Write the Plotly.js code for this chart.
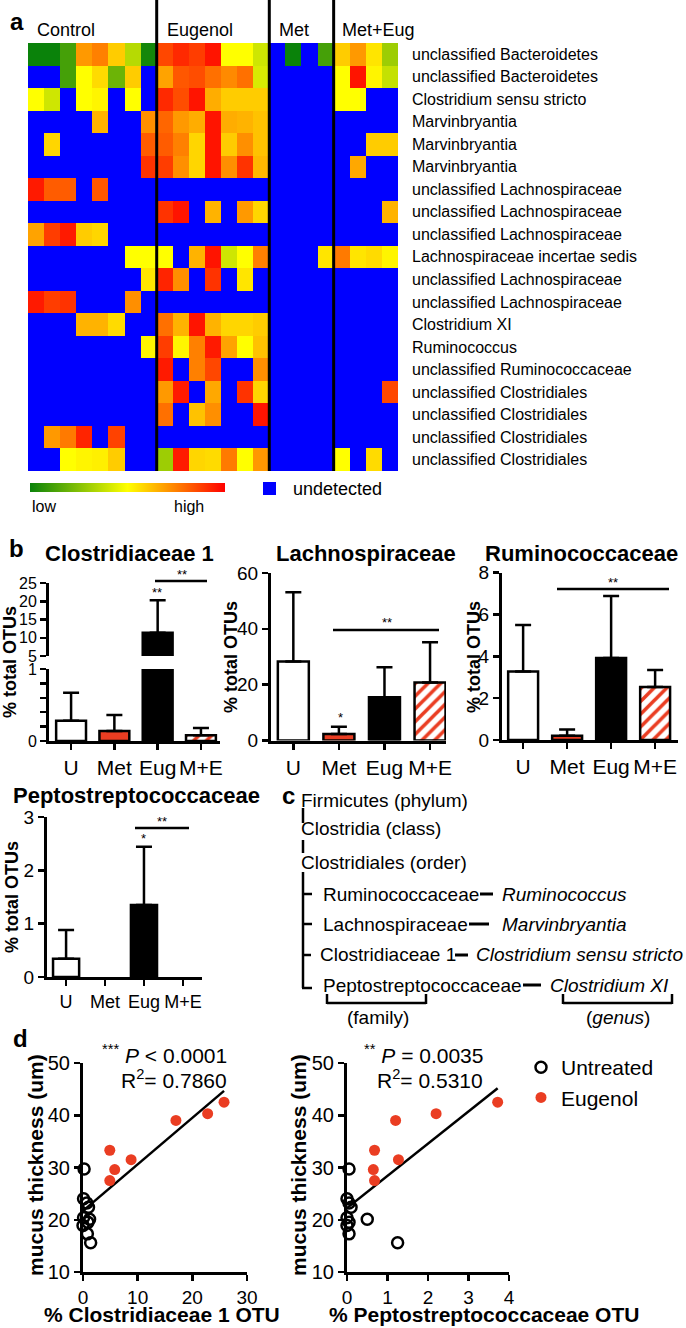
<!DOCTYPE html>
<html><head><meta charset="utf-8">
<script src="https://cdn.plot.ly/plotly-3.0.1.min.js"></script>
<style>html,body{margin:0;padding:0;background:#fff}#chart{width:686px;height:1328px}</style>
</head><body><div id="chart"></div>
<script>
const n = null;
// ---------- panel a : heatmap ----------
const rowLabels = ['unclassified Bacteroidetes','unclassified Bacteroidetes','Clostridium sensu stricto','Marvinbryantia','Marvinbryantia','Marvinbryantia','unclassified Lachnospiraceae','unclassified Lachnospiraceae','unclassified Lachnospiraceae','Lachnospiraceae incertae sedis','unclassified Lachnospiraceae','unclassified Lachnospiraceae','Clostridium XI','Ruminococcus','unclassified Ruminococcaceae','unclassified Clostridiales','unclassified Clostridiales','unclassified Clostridiales','unclassified Clostridiales'];
const groupNames = ['Control','Eugenol','Met','Met+Eug'];
const controlVals = [
 [0.0,0.0,0.12,0.7,0.75,0.6,0.35,0.02],
 [n,n,0.12,0.5,0.57,0.2,0.6,n],
 [0.5,0.4,n,0.5,0.52,n,0.5,n],
 [n,n,n,n,0.65,n,n,0.72],
 [n,0.58,n,n,n,n,n,0.82],
 [n,n,n,n,n,n,n,0.9],
 [0.95,0.82,0.82,n,0.83,n,n,n],
 [n,n,n,n,n,n,n,n],
 [0.68,0.88,0.95,0.6,0.58,n,n,n],
 [n,n,n,n,n,n,0.5,0.5],
 [n,n,n,n,n,n,n,0.55],
 [0.95,0.88,0.9,n,n,n,0.72,n],
 [n,n,n,0.65,0.65,0.57,n,n],
 [n,n,n,n,n,n,n,0.52],
 [n,n,n,n,n,n,n,n],
 [n,n,n,n,n,n,n,n],
 [n,n,n,n,n,n,n,n],
 [n,0.7,0.76,0.93,n,0.87,n,n],
 [n,n,0.5,0.52,0.53,0.6,n,n]
];
const eugenolVals = [
 [0.86,0.92,0.88,0.96,0.5,0.5,0.4],
 [0.68,0.83,0.85,0.78,0.73,0.78,0.42],
 [0.92,0.85,0.96,0.66,0.6,0.6,0.6],
 [0.8,0.7,0.66,0.96,0.66,0.65,0.62],
 [0.82,0.75,0.58,0.96,0.6,0.72,0.62],
 [0.88,0.72,0.58,0.96,0.72,0.9,0.64],
 [n,n,n,n,n,n,n],
 [0.9,0.96,n,0.65,n,0.7,0.58],
 [n,n,n,n,n,n,n],
 [0.5,n,0.65,0.96,0.4,0.5,0.75],
 [0.93,0.72,n,0.9,n,0.55,n],
 [n,n,n,n,n,n,n],
 [0.78,0.65,0.96,0.65,0.58,0.58,0.6],
 [0.88,0.52,0.75,0.95,0.68,0.5,0.62],
 [0.95,n,0.75,0.86,n,n,0.72],
 [0.7,0.95,n,0.67,n,0.9,0.58],
 [0.78,n,0.62,0.72,n,n,0.96],
 [n,n,n,n,n,n,n],
 [0.3,0.95,0.58,0.57,0.76,0.5,0.7]
];
const metVals = [
 [n,0.0,n,0.12],[n,n,n,n],[n,n,n,n],[n,n,n,n],[n,n,n,n],[n,n,n,n],[n,n,n,n],[n,n,n,n],[n,n,n,n],
 [n,n,n,0.55],[n,n,n,n],[n,n,n,n],[n,n,n,n],[n,n,n,n],[n,n,n,n],[n,n,n,n],[n,n,n,n],[n,n,n,n],[n,n,n,n]
];
const metEugVals = [
 [0.6,0.7,0.55,0.3],
 [0.5,0.96,0.52,0.38],
 [0.5,0.5,n,n],
 [n,n,n,n],
 [n,n,0.6,0.6],
 [n,0.67,n,n],
 [n,n,n,n],
 [n,n,n,0.65],
 [n,n,n,n],
 [0.76,0.55,0.57,0.52],
 [n,n,n,n],[n,n,n,n],[n,n,n,n],[n,n,n,n],[n,n,n,n],
 [n,n,n,0.86],
 [n,n,n,n],[n,n,n,n],
 [0.5,n,0.57,n]
];
// ---------- panel b : bar charts ----------
const barCats = ['U','Met','Eug','M+E'];
const clostMean = [0.28,0.14,11.4,0.08];
const clostSD   = [0.39,0.22,8.9,0.10];
const lachnoMean = [28.3,2.3,15.5,20.8];
const lachnoSD   = [24.8,2.6,10.7,14.4];
const ruminoMean = [3.27,0.2,3.92,2.54];
const ruminoSD   = [2.23,0.3,2.97,0.81];
const peptoMean = [0.34,null,1.35,null];
const peptoSD   = [0.54,null,1.09,null];
// ---------- panel d : scatter ----------
const mucusUntreated = [29.7,24.0,23.2,22.4,20.4,20.1,19.5,18.9,17.3,15.6];
const mucusEugenol   = [33.3,29.6,27.5,31.5,39.0,40.3,42.5];
const clostUntreated = [0.2,0.1,0.7,1.0,0.1,1.2,0.9,0.0,0.8,1.4];
const clostEugenol   = [4.9,5.8,4.9,8.8,17.0,22.8,25.8];
const peptoUntreated = [0.05,0.0,0.05,0.1,0.0,0.5,0.05,0.0,0.05,1.25];
const peptoEugenol   = [0.68,0.65,0.68,1.27,1.2,2.2,3.72];

// ---------- helpers ----------
const W = 686, H = 1328;
const FONT = 'Liberation Sans, Arial, Helvetica, sans-serif';
const RED = '#ea3d22';
const px = x => x / W;
const py = y => 1 - y / H;
const dX = (a, b) => [a / W, b / W];
const dY = (a, b) => [1 - b / H, 1 - a / H];

const z = rowLabels.map((_, i) => [...controlVals[i], ...eugenolVals[i], ...metVals[i], ...metEugVals[i]]);
const undetected = z.map(r => r.map(v => v === null ? 1 : null));
const nCols = z[0].length;
const groupSizes = [controlVals[0].length, eugenolVals[0].length, metVals[0].length, metEugVals[0].length];

const traces = [];
traces.push({type:'heatmap', z: undetected, xaxis:'x', yaxis:'y', colorscale:[[0,'#0000ff'],[1,'#0000ff']], showscale:false, hoverinfo:'skip'});
traces.push({type:'heatmap', z: z, xaxis:'x', yaxis:'y', zmin:0, zmax:1,
  colorscale:[[0,'rgb(10,130,10)'],[0.5,'rgb(255,255,0)'],[1,'rgb(255,0,0)']],
  hoverinfo:'skip',
  colorbar:{orientation:'h', x:px(127.5), xanchor:'center', y:py(483), yanchor:'top', len:195, lenmode:'pixels',
    thickness:9, thicknessmode:'pixels', showticklabels:false, ticks:'', outlinewidth:0, xpad:0, ypad:0}});

const barFill = ['white', RED, 'black', RED];
const barPattern = ['', '', '', '/'];
function barTrace(mean, sd, xa, ya, width) {
  return {type:'bar', x: barCats, y: mean, xaxis: xa, yaxis: ya, width: width,
    marker:{color: barFill, line:{color:'black', width:2.5},
      pattern:{shape: barPattern, fillmode:'replace', bgcolor: RED, fgcolor:'#000000', fgopacity:1, size:9, solidity:0.4}},
    error_y:{type:'data', symmetric:false, array: sd, arrayminus: sd.map(() => 0), color:'black', thickness:2.5, width:8},
    showlegend:false, hoverinfo:'skip'};
}
traces.push(barTrace(clostMean, clostSD, 'x2', 'y2', 0.69));
traces.push(barTrace(clostMean, clostSD, 'x3', 'y3', 0.69));
traces.push(barTrace(lachnoMean, lachnoSD, 'x4', 'y4', 0.68));
traces.push(barTrace(ruminoMean, ruminoSD, 'x5', 'y5', 0.68));
traces.push(barTrace(peptoMean, peptoSD, 'x6', 'y6', 0.67));

function ols(xs, ys) {
  const N = xs.length;
  const mx = xs.reduce((a, b) => a + b, 0) / N, my = ys.reduce((a, b) => a + b, 0) / N;
  let sxy = 0, sxx = 0;
  for (let i = 0; i < N; i++) { sxy += (xs[i] - mx) * (ys[i] - my); sxx += (xs[i] - mx) ** 2; }
  const m = sxy / sxx; return {m: m, b: my - m * mx};
}
function scatterSet(xu, xe, xa, ya, legend) {
  const allX = [...xu, ...xe], allY = [...mucusUntreated, ...mucusEugenol];
  const fit = ols(allX, allY);
  const lx = [Math.min(...allX), Math.max(...allX)];
  traces.push({type:'scatter', mode:'lines', x: lx, y: lx.map(v => fit.b + fit.m * v), xaxis: xa, yaxis: ya,
    line:{color:'black', width:2.5}, showlegend:false, hoverinfo:'skip', cliponaxis:false});
  traces.push({type:'scatter', mode:'markers', x: xu, y: mucusUntreated, xaxis: xa, yaxis: ya, name:'Untreated',
    marker:{symbol:'circle-open', size:11, color:'black', line:{width:2.5, color:'black'}},
    showlegend: legend, hoverinfo:'skip', cliponaxis:false});
  traces.push({type:'scatter', mode:'markers', x: xe, y: mucusEugenol, xaxis: xa, yaxis: ya, name:'Eugenol',
    marker:{symbol:'circle', size:11, color: RED},
    showlegend: legend, hoverinfo:'skip', cliponaxis:false});
}
scatterSet(clostUntreated, clostEugenol, 'x7', 'y7', true);
scatterSet(peptoUntreated, peptoEugenol, 'x8', 'y8', false);

// ---------- axes ----------
function ax(extra) {
  return Object.assign({showgrid:false, zeroline:false, showline:true, linecolor:'black', linewidth:3,
    ticks:'outside', ticklen:6, tickwidth:2.5, tickcolor:'black', tickangle:0,
    tickfont:{size:19, color:'black', family:FONT}, fixedrange:true}, extra);
}
const xTickFont = {size:21, color:'black', family:FONT};
const sTickFont = {size:20, color:'black', family:FONT};
const sxTickFont = {size:19, color:'black', family:FONT};
const layout = {
  width: W, height: H, margin:{l:0, r:0, t:0, b:0}, paper_bgcolor:'white', plot_bgcolor:'rgba(0,0,0,0)',
  font:{family:FONT, color:'black'}, bargap:0,
  showlegend:true,
  legend:{x:px(521), y:py(1047), xanchor:'left', yanchor:'top', font:{size:21, color:'black', family:FONT},
    bgcolor:'rgba(0,0,0,0)', borderwidth:0, itemsizing:'trace', tracegroupgap:0},
  xaxis:{domain:dX(28,398), range:[-0.5, nCols - 0.5], visible:false, fixedrange:true},
  yaxis:{domain:dY(43,471), range:[rowLabels.length - 0.5, -0.5], visible:false, fixedrange:true},
  xaxis2:{domain:dX(49,220), range:[-0.51,3.44], visible:false, anchor:'y2', fixedrange:true},
  yaxis2:ax({domain:dY(583,656), range:[5,25], tickvals:[5,10,15,20,25], anchor:'x2', tickfont:{size:16, color:'black', family:FONT}}),
  xaxis3:ax({domain:dX(49,220), range:[-0.51,3.44], anchor:'y3', tickfont:xTickFont, type:'category'}),
  yaxis3:ax({domain:dY(669,741), range:[0,1], tickvals:[0,0.2,0.4,0.6,0.8,1], ticktext:['0','','','','','1'], anchor:'x3', tickfont:{size:16, color:'black', family:FONT}}),
  xaxis4:ax({domain:dX(271,446), range:[-0.49,3.35], anchor:'y4', tickfont:xTickFont, type:'category'}),
  yaxis4:ax({domain:dY(573,740.5), range:[0,60], dtick:20, anchor:'x4'}),
  xaxis5:ax({domain:dX(502,678), range:[-0.48,3.52], anchor:'y5', tickfont:xTickFont, type:'category'}),
  yaxis5:ax({domain:dY(572.7,740), range:[0,8], dtick:2, anchor:'x5'}),
  xaxis6:ax({domain:dX(47,202), range:[-0.49,3.49], anchor:'y6', tickfont:{size:18, color:'black', family:FONT}, type:'category'}),
  yaxis6:ax({domain:dY(817,977), range:[0,3], dtick:1, anchor:'x6'}),
  xaxis7:ax({domain:dX(83,247), range:[0,30], dtick:10, anchor:'y7', tickfont:sxTickFont}),
  yaxis7:ax({domain:dY(1063,1272), range:[10,50], dtick:10, anchor:'x7', tickfont:sTickFont}),
  xaxis8:ax({domain:dX(347,509), range:[0,4], dtick:1, anchor:'y8', tickfont:sxTickFont}),
  yaxis8:ax({domain:dY(1063,1272), range:[10,50], dtick:10, anchor:'x8', tickfont:sTickFont})
};

// ---------- annotations ----------
const anns = [];
function T(text, x, y, o) {
  o = o || {};
  anns.push({text: text, x: px(x), y: py(y), xref:'paper', yref:'paper', showarrow:false,
    xanchor: o.xa || 'center', yanchor: o.ya || 'middle', textangle: o.rot || 0, align: o.align || 'left',
    font:{size: o.size || 16, color:'black', family: FONT}});
}
// panel a
T('<b>a</b>', 8, 22, {xa:'left', size:24});
const groupLabelX = [35, 165, 277, 340];
groupNames.forEach((g, i) => T(g, groupLabelX[i], 30, {xa:'left', size:18}));
rowLabels.forEach((lab, i) => anns.push({text: lab, x: px(410), y: i, xref:'paper', yref:'y', showarrow:false,
  xanchor:'left', yanchor:'middle', font:{size:16, color:'black', family:FONT}}));
T('low', 30, 507, {xa:'left', size:16});
T('high', 172, 507, {xa:'left', size:16});
T('undetected', 291, 489, {xa:'left', size:18});
// panel b
T('<b>b</b>', 7, 549, {xa:'left', size:24});
T('<b>Clostridiaceae 1</b>', 129, 553, {size:22});
T('<b>Lachnospiraceae</b>', 366, 553, {size:22});
T('<b>Ruminococcaceae</b>', 581, 553, {size:22});
T('<b>Peptostreptococcaceae</b>', 136, 795, {size:22});
[[10,662],[231,657],[474,657],[12,897]].forEach(p => T('<b>% total OTUs</b>', p[0], p[1], {rot:-90, size:18}));
T('**', 157, 592, {size:13}); T('**', 182, 574, {size:13});
T('*', 340, 717, {size:13}); T('**', 387, 623, {size:13});
T('**', 613, 582, {size:13});
T('*', 143, 838, {size:13}); T('**', 162, 821, {size:13});
// panel c
T('<b>c</b>', 280, 795, {xa:'left', size:24});
T('Firmicutes (phylum)', 299, 800, {xa:'left', size:19});
T('Clostridia (class)', 299, 828, {xa:'left', size:19});
T('Clostridiales (order)', 299, 862, {xa:'left', size:19});
T('Ruminococcaceae', 321, 894, {xa:'left', size:19});
T('<i>Ruminococcus</i>', 500, 894, {xa:'left', size:19});
T('Lachnospiraceae', 321, 924, {xa:'left', size:19});
T('<i>Marvinbryantia</i>', 500, 924, {xa:'left', size:19});
T('Clostridiaceae 1', 318, 955, {xa:'left', size:19});
T('<i>Clostridium sensu stricto</i>', 474, 955, {xa:'left', size:19});
T('Peptostreptococcaceae', 321, 985, {xa:'left', size:19});
T('<i>Clostridium XI</i>', 548, 985, {xa:'left', size:19});
T('(family)', 378, 1017, {size:19});
T('(<i>genus</i>)', 618, 1017, {size:19});
// panel d
T('<b>d</b>', 11, 1038, {xa:'left', size:24});
T('<sup>***</sup> <i>P</i> < 0.0001', 229, 1054, {xa:'right', size:21});
T('R<sup>2</sup>= 0.7860', 229, 1079, {xa:'right', size:21});
T('<sup>**</sup> <i>P</i> = 0.0035', 485, 1054, {xa:'right', size:21});
T('R<sup>2</sup>= 0.5310', 485, 1079, {xa:'right', size:21});
T('<b>mucus thickness (um)</b>', 35, 1165, {rot:-90, size:21});
T('<b>mucus thickness (um)</b>', 298, 1165, {rot:-90, size:21});
T('<b>% Clostridiaceae 1 OTU</b>', 162, 1314, {size:21});
T('<b>% Peptostreptococcaceae OTU</b>', 484, 1314, {size:21});
layout.annotations = anns;

// ---------- shapes ----------
const shapes = [];
function L(x0, y0, x1, y1, w) {
  shapes.push({type:'line', xref:'paper', yref:'paper', x0:px(x0), y0:py(y0), x1:px(x1), y1:py(y1), line:{color:'black', width:w || 2.5}});
}
let acc = 0;
groupSizes.slice(0, -1).forEach(s => { acc += s;
  shapes.push({type:'line', xref:'x', yref:'paper', x0: acc - 0.5, x1: acc - 0.5, y0: py(471), y1: 1, line:{color:'black', width:3}}); });
shapes.push({type:'rect', xref:'paper', yref:'paper', x0:px(263), x1:px(276), y0:py(495), y1:py(482), fillcolor:'#0000ff', line:{width:0}});
// significance brackets
L(155, 581, 207, 581); L(333, 630, 439, 630); L(557, 589, 669, 589); L(135, 828, 189, 828);
// taxonomy tree
L(303, 808, 303, 823); L(303, 840, 303, 853); L(303, 872, 303, 988);
L(303, 894, 312, 894); L(303, 924, 312, 924); L(303, 955, 311, 955); L(302, 988, 312, 988);
L(480, 894, 493, 894, 3); L(469, 924, 489, 924, 3); L(455, 955, 468, 955, 3); L(523, 985, 541, 985, 3);
L(327, 1003, 426, 1003); L(327, 994, 327, 1004); L(426, 994, 426, 1004);
L(563, 1003, 672, 1003); L(563, 994, 563, 1004); L(672, 994, 672, 1004);
layout.shapes = shapes;

Plotly.newPlot('chart', traces, layout, {displayModeBar:false, staticPlot:true});
</script></body></html>
